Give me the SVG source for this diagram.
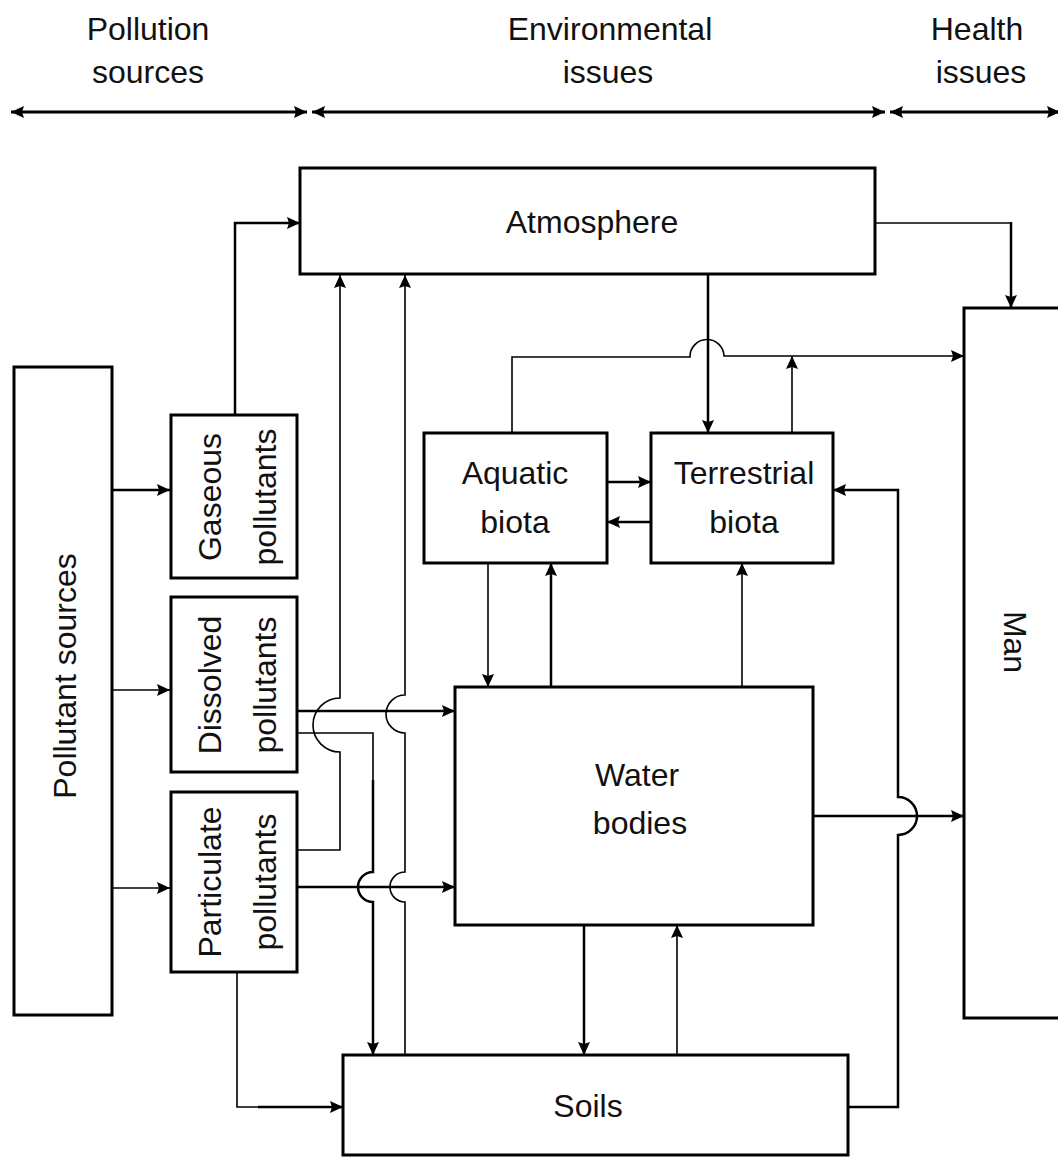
<svg xmlns="http://www.w3.org/2000/svg" width="1058" height="1158" viewBox="0 0 1058 1158">
<style>
  .box{fill:#fff;stroke:#000;stroke-width:3}
  .t{font-family:"Liberation Sans",Arial,sans-serif;font-size:32px;fill:#111;text-anchor:middle}
  .c{fill:none;stroke:#000;stroke-width:2.5}
  .thin{stroke-width:1.6}
  .thick{stroke-width:3}
  .a{marker-end:url(#ah)}
  .d{marker-start:url(#ah);marker-end:url(#ah)}
</style>
<defs>
  <marker id="ah" markerUnits="userSpaceOnUse" markerWidth="14" markerHeight="12" refX="13" refY="6" orient="auto-start-reverse">
    <path d="M0,0 L13,6 L0,12 L2,6 Z" fill="#000"/>
  </marker>
</defs>
<rect width="1058" height="1158" fill="#fff"/>

<g id="header">
  <text class="t" x="148" y="40">Pollution</text>
  <text class="t" x="148" y="83">sources</text>
  <text class="t" x="610" y="40">Environmental</text>
  <text class="t" x="608" y="83">issues</text>
  <text class="t" x="977" y="40">Health</text>
  <text class="t" x="981" y="83">issues</text>
  <path class="c thick d" d="M11,112 H307"/>
  <path class="c thick d" d="M312,112 H885"/>
  <path class="c thick d" d="M890,112 H1060"/>
</g>

<g id="connectors">
  <!-- pollutant sources to pollutant boxes -->
  <path class="c a" d="M112,490 H170"/>
  <path class="c thin a" d="M112,690 H170"/>
  <path class="c thin a" d="M112,888 H170"/>
  <!-- gaseous to atmosphere -->
  <path class="c a" d="M235,415 V223 H300"/>
  <!-- atmosphere to man -->
  <path class="c thin" d="M875,223 H1011"/>
  <path class="c a" d="M1011,222 V308"/>
  <!-- particulate to atmosphere (hop) -->
  <path class="c thin a" d="M297,850 H340 V752 A27,27 0 0 1 340,698 V275"/>
  <!-- soils to atmosphere (hops) -->
  <path class="c thin a" d="M405,1055 V902 A15,15 0 0 1 405,872 V733 A19,19 0 0 1 405,695 V275"/>
  <!-- dissolved to soils (hop) -->
  <path class="c thin" d="M297,733 H373 V780"/>
  <path class="c a" d="M373,780 V872 A15,15 0 0 0 373,902 V1055"/>
  <!-- dissolved to water -->
  <path class="c a" d="M297,711 H455"/>
  <!-- particulate to water -->
  <path class="c a" d="M297,887 H455"/>
  <!-- particulate to soils -->
  <path class="c thin" d="M237,972 V1107 H260"/>
  <path class="c a" d="M258,1107 H343"/>
  <!-- atmosphere to terrestrial -->
  <path class="c a" d="M708,274 V433"/>
  <!-- aquatic to man (hop) -->
  <path class="c thin a" d="M512,433 V357 H690 A17,17 0 0 1 724,356 H964"/>
  <!-- terrestrial up -->
  <path class="c thin a" d="M792,433 V356"/>
  <!-- aquatic <-> terrestrial -->
  <path class="c a" d="M607,482 H651"/>
  <path class="c a" d="M651,522 H607"/>
  <!-- aquatic <-> water -->
  <path class="c thin a" d="M488,563 V687"/>
  <path class="c a" d="M551,687 V563"/>
  <!-- water to terrestrial -->
  <path class="c thin a" d="M742,687 V563"/>
  <!-- water <-> soils -->
  <path class="c a" d="M584,925 V1055"/>
  <path class="c thin a" d="M677,1055 V925"/>
  <!-- water to man -->
  <path class="c a" d="M813,816 H964"/>
  <!-- soils to terrestrial (hop) -->
  <path class="c a" d="M848,1107 H898 V835 A19,19 0 0 0 898,797 V490 H833"/>
</g>

<g id="pollutant-sources">
  <rect class="box" x="14" y="367" width="98" height="648"/>
  <text class="t" transform="translate(76,676) rotate(-90)">Pollutant sources</text>
</g>
<g id="gaseous-pollutants">
  <rect class="box" x="171" y="415" width="126" height="163"/>
  <text class="t" transform="translate(221,497) rotate(-90)">Gaseous</text>
  <text class="t" transform="translate(276,497) rotate(-90)">pollutants</text>
</g>
<g id="dissolved-pollutants">
  <rect class="box" x="171" y="597" width="126" height="175"/>
  <text class="t" transform="translate(221,685) rotate(-90)">Dissolved</text>
  <text class="t" transform="translate(276,685) rotate(-90)">pollutants</text>
</g>
<g id="particulate-pollutants">
  <rect class="box" x="171" y="792" width="126" height="180"/>
  <text class="t" transform="translate(221,882) rotate(-90)">Particulate</text>
  <text class="t" transform="translate(276,882) rotate(-90)">pollutants</text>
</g>
<g id="atmosphere">
  <rect class="box" x="300" y="168" width="575" height="106"/>
  <text class="t" x="592" y="233">Atmosphere</text>
</g>
<g id="aquatic-biota">
  <rect class="box" x="424" y="433" width="183" height="130"/>
  <text class="t" x="515" y="484">Aquatic</text>
  <text class="t" x="515" y="533">biota</text>
</g>
<g id="terrestrial-biota">
  <rect class="box" x="651" y="433" width="182" height="130"/>
  <text class="t" x="744" y="484">Terrestrial</text>
  <text class="t" x="744" y="533">biota</text>
</g>
<g id="water-bodies">
  <rect class="box" x="455" y="687" width="358" height="238"/>
  <text class="t" x="637" y="786">Water</text>
  <text class="t" x="640" y="834">bodies</text>
</g>
<g id="soils">
  <rect class="box" x="343" y="1055" width="505" height="100"/>
  <text class="t" x="588" y="1117">Soils</text>
</g>
<g id="man">
  <rect class="box" x="964" y="308" width="110" height="710"/>
  <text class="t" transform="translate(1004,642) rotate(90)">Man</text>
</g>
</svg>
